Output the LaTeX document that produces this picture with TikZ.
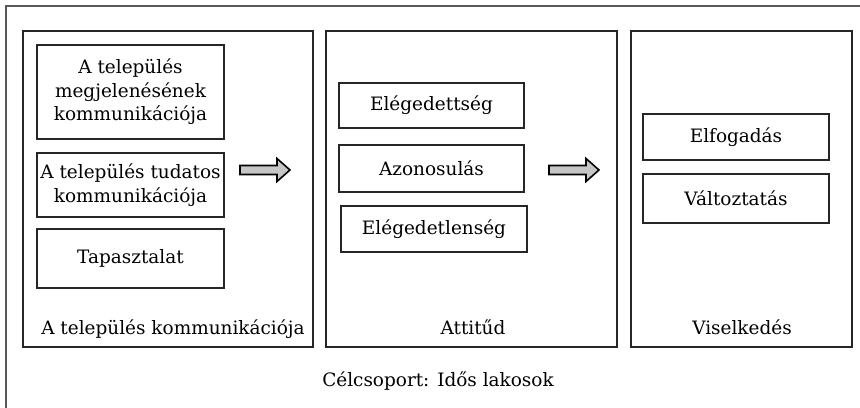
\documentclass[tikz,border=0pt]{standalone}
\usepackage{fontspec}
\setmainfont{DejaVu Serif}
\tikzset{
  panel/.style={
    rectangle,
    draw=black!85,
    line width=0.9pt,
    minimum height=6.32cm
  },
  item/.style={
    rectangle,
    draw=black!85,
    line width=0.9pt,
    align=center,
    inner sep=0pt,
    execute at begin node=\setlength{\baselineskip}{13.3pt}
  }
}
\tikzstyle{fatarrow} = [draw=black, line width=0.9pt, fill=gray!45, line join=miter]
\def\txt{\fontsize{10.5}{13.3}\selectfont}
% thick block arrow, left end at (#1,#2)
\newcommand\blockarrow[2]{\draw[fatarrow, shift={(#1,#2)}] (0,-4.5) -- (37,-4.5) -- (37,-11.5) -- (50,0) -- (37,11.5) -- (37,4.5) -- (0,4.5) -- cycle;}

\begin{document}
\begin{tikzpicture}[x=0.02cm, y=-0.02cm, font=\txt]
    \useasboundingbox (0,0) rectangle (860,408);
    \draw[black!65, line width=1pt] (860,6) -- (6,6) -- (6,408);

    % panels
    \node[panel, minimum width=5.8cm] (kommunikacio) at (168,189) {};
    \node[panel, minimum width=5.82cm] (attitud) at (471.5,189) {};
    \node[panel, minimum width=4.42cm] (viselkedes) at (741.5,189) {};
    \node[anchor=base] (l1) at (173,335) {A település kommunikációja};
    \node[anchor=base] (l2) at (473,335) {Attitűd};
    \node[anchor=base] (l3) at (742,335) {Viselkedés};

    % boxes
    \node[item, minimum width=3.74cm, minimum height=1.88cm] (megjelenes) at (130.5,92) {A település\\megjelenésének\\kommunikációja};
    \node[item, minimum width=3.74cm, minimum height=1.28cm] (tudatos) at (130.5,185) {A település tudatos\\kommunikációja};
    \node[item, minimum width=3.74cm, minimum height=1.18cm] (tapasztalat) at (130.5,258.5) {Tapasztalat};
    \node[item, minimum width=3.7cm, minimum height=0.9cm] (elegedett) at (431.5,105.5) {Elégedettség};
    \node[item, minimum width=3.7cm, minimum height=0.94cm] (azonosulas) at (431.5,168.5) {Azonosulás};
    \node[item, minimum width=3.72cm, minimum height=0.92cm] (elegedetlen) at (434,229) {Elégedetlenség};
    \node[item, minimum width=3.72cm, minimum height=0.92cm] (elfogadas) at (736,137) {Elfogadás};
    \node[item, minimum width=3.72cm, minimum height=0.98cm] (valtoztatas) at (736,198.5) {Változtatás};

    % arrows
    \blockarrow{240}{170}
    \blockarrow{549}{170}

    \node[anchor=base] (celcsoport) at (438,387) {Célcsoport: Idős lakosok};
\end{tikzpicture}
\end{document}
